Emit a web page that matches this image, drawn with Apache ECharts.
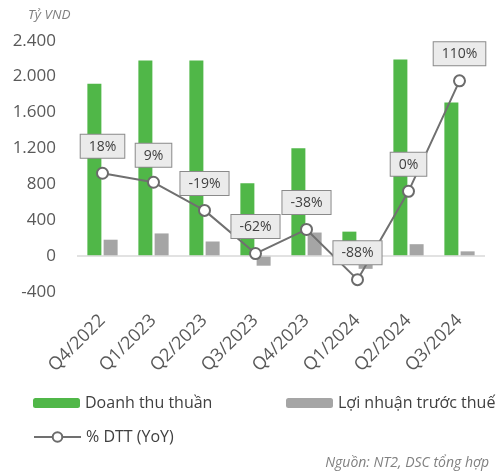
<!DOCTYPE html>
<html>
<head>
<meta charset="utf-8">
<script src="https://cdn.jsdelivr.net/npm/echarts@6/dist/echarts.min.js"></script>
<style>
html,body{margin:0;padding:0;background:#fff;}
#chart{width:501px;height:471px;}
</style>
</head>
<body>
<div id="chart"></div>
<script>
const categories = ['Q4/2022','Q1/2023','Q2/2023','Q3/2023','Q4/2023','Q1/2024','Q2/2024','Q3/2024'];
const revenue = [1920, 2180, 2180, 810, 1200, 270, 2190, 1710];
const profit = [180, 250, 160, -110, 260, -145, 130, 50];
const yoy = [18, 9, -19, -62, -38, -88, 0, 110];
const yTicks = [-400, 0, 400, 800, 1200, 1600, 2000, 2400];

const FONT = '"Open Sans", "Noto Sans", sans-serif';
const chart = echarts.init(document.getElementById('chart'), null, {renderer: 'canvas'});

function fmtThousands(v) {
  const s = String(Math.abs(v)).replace(/\B(?=(\d{3})+(?!\d))/g, '.');
  return (v < 0 ? '-' : '') + s;
}

chart.setOption({
  animation: false,
  textStyle: {fontFamily: FONT},
  title: [
    {text: 'Tỷ VND', left: 23, top: 3,
     textStyle: {fontFamily: FONT, fontSize: 13.5, fontStyle: 'italic', fontWeight: 'normal', color: '#808080'}},
    {text: 'Nguồn: NT2, DSC tổng hợp', right: 7, top: 451,
     textStyle: {fontFamily: FONT, fontSize: 14, fontStyle: 'italic', fontWeight: 'normal', color: '#808080'}}
  ],
  legend: [
    {data: ['Doanh thu thuần'], left: 28, top: 390, itemWidth: 47, itemHeight: 10,
     textStyle: {fontFamily: FONT, fontSize: 16, color: '#404040'}},
    {data: ['Lợi nhuận trước thuế'], left: 281, top: 390, itemWidth: 47, itemHeight: 10,
     textStyle: {fontFamily: FONT, fontSize: 16, color: '#404040'}},
    {data: ['% DTT (YoY)'], left: 28, top: 424, itemWidth: 47, itemHeight: 12,
     textStyle: {fontFamily: FONT, fontSize: 16, color: '#404040'}}
  ],
  grid: {left: 77, right: 16, top: 40.7, bottom: 179.3, containLabel: false},
  xAxis: {
    type: 'category',
    data: categories,
    axisLine: {show: false, onZero: false},
    axisTick: {show: false},
    axisLabel: {rotate: 45, margin: 26, fontFamily: FONT, fontSize: 18, color: '#595959', interval: 0}
  },
  yAxis: [
    {
      type: 'value', min: yTicks[0], max: yTicks[yTicks.length - 1], interval: 400,
      axisLine: {show: false}, axisTick: {show: false}, splitLine: {show: false},
      axisLabel: {margin: 21, fontFamily: FONT, fontSize: 17, color: '#595959', formatter: fmtThousands}
    },
    {
      type: 'value', min: -100, max: 150, show: false, splitLine: {show: false}
    }
  ],
  series: [
    {
      name: 'Doanh thu thuần', type: 'bar', data: revenue, barWidth: 14, barGap: '16%',
      itemStyle: {color: '#50b748'},
      markLine: {
        silent: true, symbol: 'none', label: {show: false},
        lineStyle: {color: '#d9d9d9', width: 1.5, type: 'solid'},
        data: [{yAxis: 0}]
      }
    },
    {
      name: 'Lợi nhuận trước thuế', type: 'bar', data: profit, barWidth: 14,
      itemStyle: {color: '#a5a5a5'}
    },
    {
      name: '% DTT (YoY)', type: 'line', yAxisIndex: 1, data: yoy,
      symbol: 'circle', symbolSize: 11, z: 5,
      lineStyle: {color: '#707070', width: 2},
      itemStyle: {color: '#ffffff', borderColor: '#6b6b6b', borderWidth: 2},
      label: {
        show: true, position: 'top', distance: 9,
        formatter: p => p.value + '%',
        fontFamily: FONT, fontSize: 14, color: '#404040',
        backgroundColor: '#ebebeb', borderColor: '#8a8a8a', borderWidth: 1,
        padding: [5, 8, 4, 8]
      }
    }
  ]
});
</script>
</body>
</html>
